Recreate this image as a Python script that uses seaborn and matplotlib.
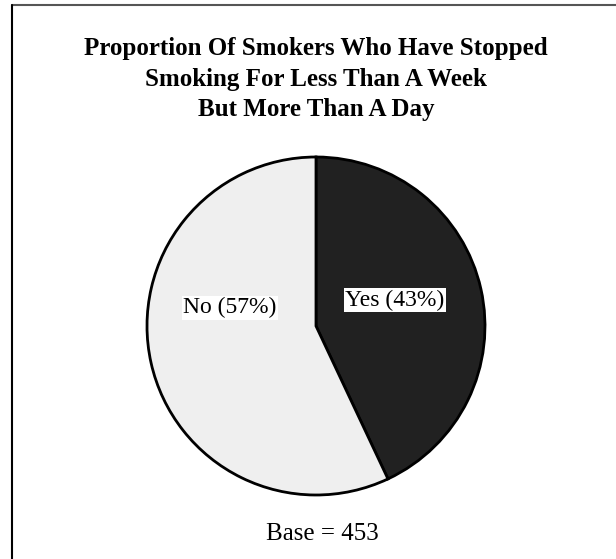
import numpy as np
import matplotlib
matplotlib.use("Agg")
import matplotlib.pyplot as plt
from matplotlib.lines import Line2D
import seaborn as sns

# Data
categories = ["Yes", "No"]
shares = [43, 57]
base_n = 453
title = ("Proportion Of Smokers Who Have Stopped\n"
         "Smoking For Less Than A Week\n"
         "But More Than A Day")

sns.set_theme(style="white")
plt.rcParams['font.family'] = ['Liberation Serif', 'DejaVu Serif']
plt.rcParams['text.color'] = 'black'

colors = ["#212121", "#efefef"]

fig = plt.figure(figsize=(6.16, 5.59), dpi=100)
fig.patch.set_facecolor("white")

# pie axes: 338px square, centred at (316, 326) from top-left
W, H = 616, 559
ax = fig.add_axes([147 / W, (H - 495) / H, 338 / W, 338 / H])
wedges, _ = ax.pie(shares, colors=colors, startangle=90, counterclock=False,
                   wedgeprops=dict(edgecolor="black", linewidth=2))
for w in wedges:
    w.set_clip_on(False)
ax.set_xlim(-1, 1)
ax.set_ylim(-1, 1)
ax.set_aspect("equal")
ax.axis("off")

# slice labels (distance, angle in degrees) - layout only
label_pos = [(0.49, 18), (0.52, 168)]
for cat, val, (r, a) in zip(categories, shares, label_pos):
    x, y = r * np.cos(np.radians(a)), r * np.sin(np.radians(a))
    ax.text(x, y, f"{cat} ({val}%)", ha="center", va="center", fontsize=17,
            color="black",
            bbox=dict(facecolor="white", edgecolor="none", pad=1.0))

fig.text(316 / W, 1 - 37 / H, title, ha="center", va="top", fontsize=18,
         fontweight="bold", linespacing=1.42, color="black")
fig.text(322 / W, 1 - 540 / H, f"Base = {base_n}", ha="center",
         va="baseline", fontsize=18, color="black")

# frame lines (top and left)
fig.add_artist(Line2D([12 / W, 1], [1 - 5 / H, 1 - 5 / H], color="#555555",
                      linewidth=1.5, transform=fig.transFigure))
fig.add_artist(Line2D([12 / W, 12 / W], [1 - 5 / H, 0], color="black",
                      linewidth=1.5, transform=fig.transFigure))

fig.savefig("out.png", dpi=100)
